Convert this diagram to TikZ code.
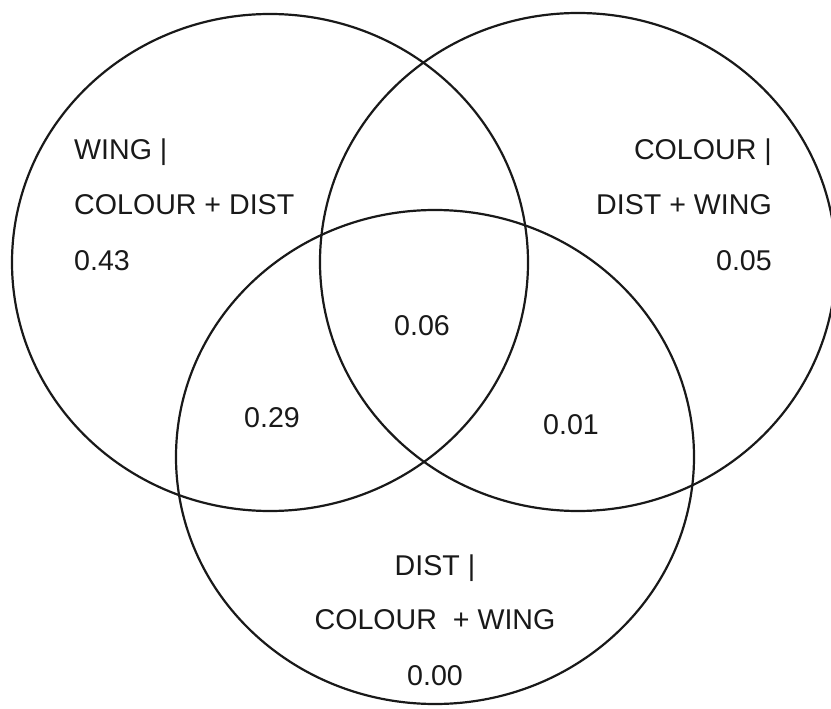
\documentclass[tikz,border=0pt]{standalone}
\usepackage{fontspec}
\setmainfont{Liberation Sans}
\usetikzlibrary{positioning}

\begin{document}
\begin{tikzpicture}[
    x=1pt, y=-1pt,
    set/.style={draw=black!90, line width=2.2pt},
    lab/.style={font=\fontsize{28.6}{34}\selectfont, text=black!90, inner sep=0pt},
]
\useasboundingbox (0,0) rectangle (831,709);

% ============ Sets ============
\coordinate (cWing) at (270,262.5);
\coordinate (cColour) at (578,262);
\coordinate (cDist) at (435,457);

\draw[set] (cWing) ellipse [x radius=258, y radius=248.5];
\draw[set] (cColour) ellipse [x radius=258, y radius=249];
\draw[set] (cDist) ellipse [x radius=259, y radius=247];

% ============ Unique parts ============
\node[lab, anchor=base west] (wing1) at (74,159) {WING |};
\node[lab, anchor=base west] (wing2) at (74,214) {COLOUR + DIST};
\node[lab, anchor=base west] (wingv) at (74,270) {0.43};

\node[lab, anchor=base east] (colour1) at (772,159) {COLOUR |};
\node[lab, anchor=base east] (colour2) at (772,214) {DIST + WING};
\node[lab, anchor=base east] (colourv) at (772,270) {0.05};

\node[lab, anchor=base] (dist1) at (435,575) {DIST |};
\node[lab, anchor=base] (dist2) at (435,629) {COLOUR\ \ + WING};
\node[lab, anchor=base] (distv) at (435,685) {0.00};

% ============ Shared parts ============
\node[lab, anchor=base] (all) at (422,335) {0.06};
\node[lab, anchor=base] (wingdist) at (272,427) {0.29};
\node[lab, anchor=base] (colourdist) at (571,434) {0.01};

\end{tikzpicture}
\end{document}
